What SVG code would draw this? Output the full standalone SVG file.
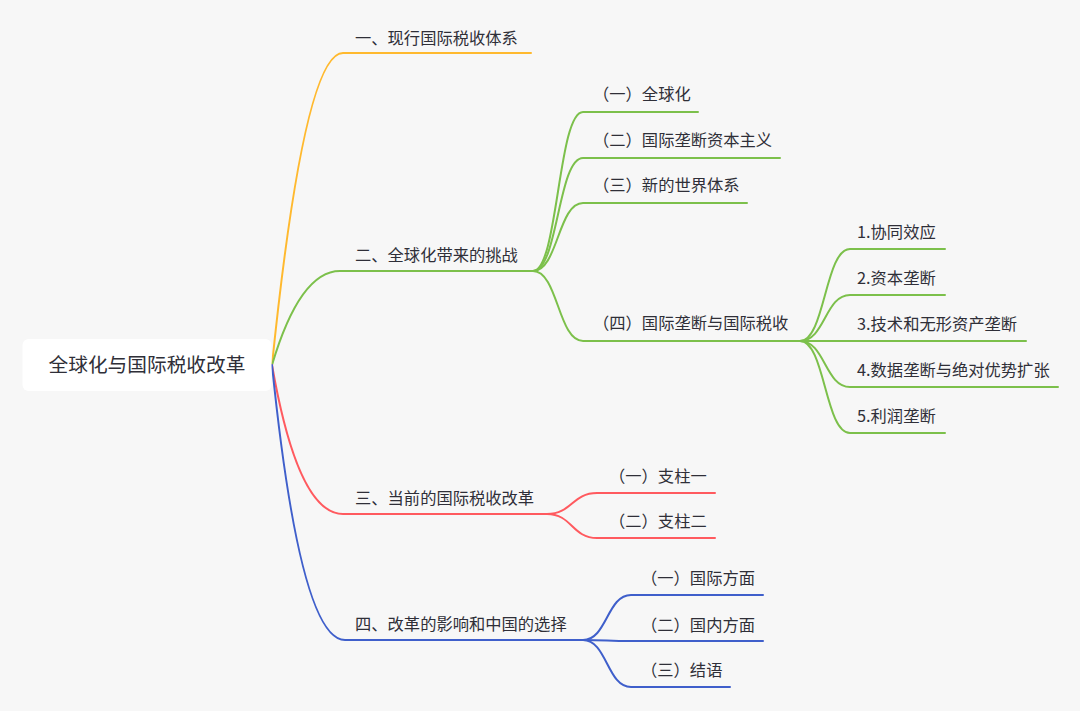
<svg xmlns="http://www.w3.org/2000/svg" width="1080" height="711" viewBox="0 0 1080 711">
  <style>
    .bg { fill: #f7f7f7; }
    .c { fill: none; stroke-width: 2; stroke-linecap: round; }
    .o { stroke: #FFB92E; }
    .g { stroke: #7CC04B; }
    .r { stroke: #FF5A5F; }
    .b { stroke: #3F5FCB; }
    text { font-family: "Noto Sans CJK SC", "Noto Sans", sans-serif; fill: #2f2f38; }
    .t { font-size: 16.3px; }
    .root { font-size: 19.7px; text-anchor: middle; }
  </style>
  <rect class="bg" x="0" y="0" width="1080" height="711"/>

  <g id="connectors">
    <!-- root to level 1 -->
    <path class="c o" d="M272,365 Q304,53 343,53 H531"/>
    <path class="c g" d="M272,365 Q300,271 340,271 H533"/>
    <path class="c r" d="M272,365 Q298,514 343,514 H547"/>
    <path class="c b" d="M272,365 Q300,640 345,640 H583"/>
    <!-- green fork -->
    <path class="c g" d="M533,271 C558,271 558,112 583,112 H698"/>
    <path class="c g" d="M533,271 C558,271 558,158 583,158 H780"/>
    <path class="c g" d="M533,271 C558,271 558,203 583,203 H747"/>
    <path class="c g" d="M533,271 C558,271 558,341 583,341 H800"/>
    <!-- level 3 fork -->
    <path class="c g" d="M800,341 C825,341 825,249 850,249 H945"/>
    <path class="c g" d="M800,341 C825,341 825,295 850,295 H945"/>
    <path class="c g" d="M800,341 H1026"/>
    <path class="c g" d="M800,341 C825,341 825,387 850,387 H1058"/>
    <path class="c g" d="M800,341 C825,341 825,433 850,433 H945"/>
    <!-- red fork -->
    <path class="c r" d="M547,514 C572,514 572,493 597,493 H715"/>
    <path class="c r" d="M547,514 C572,514 572,538 597,538 H715"/>
    <!-- blue fork -->
    <path class="c b" d="M583,640 C607,640 607,595 631,595 H763"/>
    <path class="c b" d="M583,640 C607,640 607,641 631,641 H763"/>
    <path class="c b" d="M583,640 C607,640 607,687 631,687 H730"/>
  </g>

  <g id="root">
    <rect x="22.5" y="339" width="249" height="52" rx="6" fill="#ffffff"/>
    <text class="root" x="147" y="372">全球化与国际税收改革</text>
  </g>

  <g id="n1"><text class="t" x="355" y="44">一、现行国际税收体系</text></g>
  <g id="n2"><text class="t" x="355" y="261">二、全球化带来的挑战</text></g>
  <g id="n2-1"><text class="t" x="593" y="99.5">（一）全球化</text></g>
  <g id="n2-2"><text class="t" x="593" y="145.5">（二）国际垄断资本主义</text></g>
  <g id="n2-3"><text class="t" x="593" y="190.5">（三）新的世界体系</text></g>
  <g id="n2-4"><text class="t" x="593" y="328.5">（四）国际垄断与国际税收</text></g>
  <g id="n2-4-1"><text class="t" x="857" y="238">1.协同效应</text></g>
  <g id="n2-4-2"><text class="t" x="857" y="284">2.资本垄断</text></g>
  <g id="n2-4-3"><text class="t" x="857" y="330">3.技术和无形资产垄断</text></g>
  <g id="n2-4-4"><text class="t" x="857" y="376">4.数据垄断与绝对优势扩张</text></g>
  <g id="n2-4-5"><text class="t" x="857" y="422">5.利润垄断</text></g>
  <g id="n3"><text class="t" x="355" y="504">三、当前的国际税收改革</text></g>
  <g id="n3-1"><text class="t" x="609" y="481.5">（一）支柱一</text></g>
  <g id="n3-2"><text class="t" x="609" y="527">（二）支柱二</text></g>
  <g id="n4"><text class="t" x="355" y="629.5">四、改革的影响和中国的选择</text></g>
  <g id="n4-1"><text class="t" x="641" y="584">（一）国际方面</text></g>
  <g id="n4-2"><text class="t" x="641" y="630.5">（二）国内方面</text></g>
  <g id="n4-3"><text class="t" x="641" y="676">（三）结语</text></g>
</svg>
